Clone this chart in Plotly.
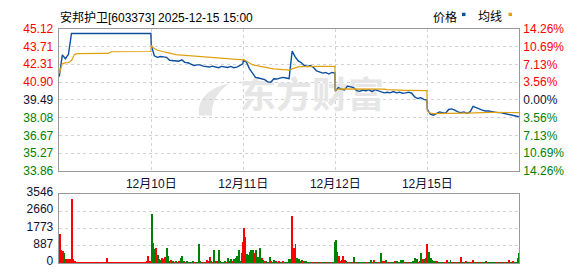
import plotly.graph_objects as go

# ---------------- data ----------------
prev_close = 39.49
day_labels = ["12月10日", "12月11日", "12月12日", "12月15日"]
price_ticks = [33.86, 35.27, 36.67, 38.08, 39.49, 40.90, 42.31, 43.71, 45.12]
pct_ticks = [-14.26, -10.69, -7.13, -3.56, 0.00, 3.56, 7.13, 10.69, 14.26]
vol_ticks = [0, 887, 1773, 2660, 3546]

# price sampled every 8 minutes (31 points per day)
price_d0 = [41.34, 43.05, 42.75, 43.10, 44.75, 44.75, 44.75, 44.75, 44.75, 44.75,
            44.75, 44.75, 44.75, 44.75, 44.75, 44.75, 44.75, 44.75, 44.75, 44.75,
            44.75, 44.75, 44.75, 44.75, 44.75, 44.75, 44.75, 44.75, 44.75, 44.75, 44.75]
price_d1 = [43.80, 42.98, 42.86, 42.93, 42.90, 42.86, 42.63, 42.60, 42.58, 42.55,
            42.66, 42.46, 42.43, 42.34, 42.21, 42.26, 42.26, 42.16, 42.11, 42.09,
            42.16, 42.09, 42.04, 42.14, 42.09, 42.06, 42.14, 42.04, 42.09, 42.21, 42.34]
price_d2 = [42.60, 42.50, 41.97, 41.59, 41.27, 41.22, 41.14, 41.09, 40.92, 40.89,
            41.17, 41.14, 41.22, 41.27, 41.22, 41.17, 43.35, 42.90, 42.58, 42.43,
            42.21, 42.14, 42.21, 42.06, 41.79, 41.68, 41.61, 41.66, 41.54, 41.66, 41.61]
price_d3 = [40.20, 40.47, 40.35, 40.27, 40.59, 40.55, 40.47, 40.22, 40.17, 40.27,
            40.22, 40.30, 40.15, 40.30, 40.22, 40.15, 40.05, 40.10, 40.05, 40.15,
            40.05, 40.10, 40.02, 40.05, 40.10, 40.02, 39.73, 39.60, 39.67, 39.53, 39.48]
price_d4 = [38.75, 38.36, 38.28, 38.41, 38.54, 38.48, 38.43, 38.73, 38.78, 38.68,
            38.54, 38.48, 38.54, 38.43, 38.54, 38.98, 38.85, 38.78, 38.68, 38.61,
            38.61, 38.56, 38.54, 38.48, 38.48, 38.43, 38.36, 38.31, 38.28, 38.24, 38.16]

avg_d0 = [41.60, 42.35, 42.42, 42.45, 42.60, 43.10, 43.15, 43.16, 43.16, 43.16,
          43.16, 43.16, 43.17, 43.17, 43.17, 43.18, 43.18, 43.30, 43.30, 43.30,
          43.31, 43.31, 43.31, 43.31, 43.31, 43.32, 43.32, 43.32, 43.32, 43.32, 43.32]
avg_d1 = [43.80, 43.55, 43.42, 43.33, 43.30, 43.25, 43.18, 43.12, 43.08, 43.06,
          43.04, 43.02, 43.00, 42.97, 42.95, 42.93, 42.91, 42.89, 42.87, 42.85,
          42.83, 42.81, 42.79, 42.77, 42.75, 42.73, 42.72, 42.70, 42.69, 42.68, 42.66]
avg_d2 = [42.70, 42.55, 42.38, 42.28, 42.22, 42.16, 42.10, 42.05, 42.01, 41.98,
          41.95, 41.93, 41.91, 41.89, 41.87, 41.85, 41.95, 42.05, 42.10, 42.12,
          42.13, 42.13, 42.13, 42.13, 42.14, 42.14, 42.14, 42.14, 42.14, 42.14, 42.14]
avg_d3 = [40.25, 40.35, 40.36, 40.36, 40.37, 40.37, 40.37, 40.37, 40.36, 40.36,
          40.36, 40.35, 40.35, 40.35, 40.35, 40.34, 40.34, 40.30, 40.28, 40.27,
          40.26, 40.25, 40.25, 40.24, 40.24, 40.23, 40.23, 40.22, 40.22, 40.22, 40.22]
avg_d4 = [38.60, 38.45, 38.40, 38.41, 38.42, 38.42, 38.42, 38.43, 38.44, 38.44,
          38.44, 38.44, 38.44, 38.44, 38.45, 38.48, 38.50, 38.50, 38.50, 38.50,
          38.50, 38.50, 38.50, 38.50, 38.50, 38.50, 38.50, 38.50, 38.50, 38.49, 38.49]

# volume sampled every 4 minutes (61 bars per day); r = up (red), g = down (green)
vol_d0 = [1507, 661, 600, 535, 209, 209, 209, 209, 3285, 209,
          100, 45, 40, 35, 40, 30, 35, 30, 40, 35,
          30, 35, 30, 40, 30, 35, 30, 30, 40, 35,
          30, 258, 40, 30, 35, 30, 30, 35, 30, 40,
          30, 35, 30, 30, 35, 40, 30, 35, 30, 30,
          35, 30, 40, 30, 35, 30, 45, 60, 369, 50,
          60]
col_d0 = "rrrggrrrrr rrrrrrrrrr rrrrrrrrrr rrrrrrrrrr rrrrrrrrrr rrrrrrrrrr r"
vol_d1 = [2509, 1020, 729, 777, 400, 209, 150, 258, 209, 300,
          744, 369, 60, 130, 50, 40, 60, 40, 50, 280,
          369, 60, 40, 50, 40, 35, 40, 50, 35, 40,
          45, 987, 50, 40, 35, 40, 130, 50, 290, 60,
          45, 661, 60, 50, 661, 50, 40, 45, 60, 40,
          280, 60, 209, 50, 209, 250, 370, 661, 100, 510,
          1098]
col_d1 = "gggrgggrgr gggrgrggrg ggrggrggrg gggrggrrrg rggrggrggr gggrgggggg r"
vol_d2 = [1798, 1312, 450, 400, 583, 661, 661, 500, 661, 300,
          300, 744, 240, 150, 60, 50, 40, 290, 50, 40,
          150, 50, 40, 100, 45, 40, 50, 40, 35, 45,
          209, 180, 2396, 777, 987, 250, 200, 60, 150, 50,
          100, 60, 40, 45, 40, 35, 40, 45, 35, 40,
          35, 40, 45, 35, 40, 45, 40, 35, 40, 45,
          1098]
col_d2 = "rrggrggrgg ggrgrgggrg grgrggrggr ggrrrggggr ggrggrggrg grggrggrgg g"
vol_d3 = [1181, 564, 340, 60, 150, 340, 150, 50, 40, 45,
          40, 35, 290, 45, 40, 35, 40, 45, 35, 40,
          45, 40, 35, 150, 40, 150, 45, 40, 35, 40,
          500, 50, 100, 150, 45, 40, 35, 40, 45, 120,
          90, 40, 45, 130, 150, 40, 45, 40, 35, 40,
          45, 100, 280, 209, 45, 60, 510, 209, 209, 280,
          987]
col_d3 = "ggrrrrrggr grggrggrgg rgggrrggrg grrggrggrr ggrggrggrg rgggrggrgr r"
vol_d4 = [500, 583, 280, 150, 100, 50, 100, 45, 40, 45,
          40, 35, 45, 150, 40, 150, 40, 35, 45, 40,
          35, 45, 321, 40, 35, 50, 40, 45, 35, 40,
          150, 45, 40, 35, 45, 40, 35, 45, 100, 40,
          45, 35, 40, 45, 35, 40, 45, 35, 40, 45,
          40, 35, 45, 150, 40, 35, 100, 45, 40, 280,
          510]
col_d4 = "ggggrgrgrg grgrggrggr ggrgrrggrg rgrggrgggr ggrggrggrg grgrggrggg g"

# ---------------- build series ----------------
MIN_PER_DAY = 241
prices = [price_d0, price_d1, price_d2, price_d3, price_d4]
avgs = [avg_d0, avg_d1, avg_d2, avg_d3, avg_d4]
vols = [vol_d0, vol_d1, vol_d2, vol_d3, vol_d4]
cols = [col_d0, col_d1, col_d2, col_d3, col_d4]

px, py, ay = [], [], []
for d, (pp, aa) in enumerate(zip(prices, avgs)):
    for k, (p, a) in enumerate(zip(pp, aa)):
        px.append(d * MIN_PER_DAY + 8 * k)
        py.append(p)
        ay.append(a)

vx, vy, vc = [], [], []
RED, GREEN = "#ff0000", "#008000"
for d, (vv, cc) in enumerate(zip(vols, cols)):
    cc = cc.replace(" ", "")
    for k, (v, c) in enumerate(zip(vv, cc)):
        vx.append(d * MIN_PER_DAY + 4 * k)
        vy.append(v)
        vc.append(RED if c == "r" else GREEN)

# ---------------- geometry helpers (pixels -> paper) ----------------
W, H = 578, 276
def fx(p):
    return p / W
def fy(p):
    return 1 - p / H

X0, X1 = 58.7, 519.3
P_TOP, P_BOT = 21.0, 172.0
V_TOP, V_BOT = 196.3, 269.5

XR = [-1.5, 1205]
YR = [price_ticks[0], price_ticks[-1]]
FONT = "Liberation Sans, Arial, Noto Sans CJK SC, sans-serif"
GRID = "#d2d2d2"
BORDER = "#9a9a9a"
BLUE = "#0b4fa0"
ORANGE = "#e0a010"
WM = "#e6e6e6"

def colored(txt, color):
    return '<span style="color:%s">%s</span>' % (color, txt)

left_text = []
for v in price_ticks:
    c = RED if v > prev_close + 1e-6 else (GREEN if v < prev_close - 1e-6 else "#101030")
    left_text.append(colored("%.2f" % v, c))
right_text = []
for v in pct_ticks:
    c = RED if v > 0 else (GREEN if v < 0 else "#101030")
    right_text.append(colored("%.2f%%" % abs(v), c))

# watermark placed (below the lines) at a pixel location converted to data units
def px_to_x(p):
    return XR[0] + (p - X0) / (X1 - X0) * (XR[1] - XR[0])
def px_to_y(p):
    return YR[1] - (p - P_TOP) / (P_BOT - P_TOP) * (YR[1] - YR[0])

fig = go.Figure()
fig.add_trace(go.Scatter(x=[px_to_x(312)], y=[px_to_y(96)], mode="text", text=["东方财富"],
                         textposition="middle center",
                         textfont=dict(family="Noto Sans CJK SC", size=36, color=WM,
                                       weight="bold"),
                         xaxis="x", yaxis="y", hoverinfo="skip", showlegend=False))
fig.add_trace(go.Scatter(x=px, y=py, mode="lines", line=dict(color=BLUE, width=1.4),
                         xaxis="x", yaxis="y", hoverinfo="skip", showlegend=False))
fig.add_trace(go.Scatter(x=px, y=ay, mode="lines", line=dict(color=ORANGE, width=1.2),
                         xaxis="x", yaxis="y", hoverinfo="skip", showlegend=False))
fig.add_trace(go.Scatter(x=[px[0]], y=[0], mode="markers", marker=dict(opacity=0),
                         xaxis="x", yaxis="y3", hoverinfo="skip", showlegend=False))
fig.add_trace(go.Bar(x=vx, y=vy, marker=dict(color=vc, line=dict(width=0)), width=2.6,
                     xaxis="x2", yaxis="y2", hoverinfo="skip", showlegend=False))

axis_font = dict(family=FONT, size=12, color="#101030")

fig.update_layout(
    width=W, height=H, autosize=False,
    margin=dict(l=0, r=0, t=0, b=0),
    paper_bgcolor="white", plot_bgcolor="white",
    bargap=0,
    xaxis=dict(domain=[fx(X0), fx(X1)], range=XR, anchor="y",
               tickvals=[241, 482, 723, 964], ticktext=day_labels,
               tickfont=axis_font, ticks="", ticklabelstandoff=2,
               showgrid=True, gridcolor=GRID, griddash="3px,3px", gridwidth=1,
               showline=True, mirror=True, linecolor=BORDER, linewidth=1,
               zeroline=False),
    yaxis=dict(domain=[fy(P_BOT), fy(P_TOP)], range=YR,
               anchor="x", tickvals=price_ticks, ticktext=left_text,
               tickfont=axis_font, ticks="", ticklabelstandoff=2,
               showgrid=True, gridcolor=GRID, griddash="3px,3px", gridwidth=1,
               showline=True, mirror=True, linecolor=BORDER, linewidth=1,
               zeroline=False),
    yaxis3=dict(overlaying="y", side="right", anchor="x",
                range=[pct_ticks[0], pct_ticks[-1]],
                tickvals=pct_ticks, ticktext=right_text,
                tickfont=axis_font, ticks="", ticklabelstandoff=3,
                showgrid=False, zeroline=False, showline=False),
    xaxis2=dict(domain=[fx(X0), fx(X1)], range=XR, anchor="y2",
                showticklabels=False, ticks="", showgrid=False,
                showline=True, mirror=True, linecolor=BORDER, linewidth=1,
                zeroline=False),
    yaxis2=dict(domain=[fy(V_BOT), fy(V_TOP)], range=[0, vol_ticks[-1]], anchor="x2",
                tickvals=vol_ticks, ticktext=[str(v) for v in vol_ticks],
                tickfont=axis_font, ticks="", ticklabelstandoff=2, ticklabelshift=-2,
                showgrid=True, gridcolor=GRID, griddash="3px,3px", gridwidth=1,
                showline=True, mirror=True, linecolor=BORDER, linewidth=1,
                zeroline=False),
)

# title and legend
fig.add_annotation(x=fx(58), y=fy(8.5), xref="paper", yref="paper", xanchor="left",
                   yanchor="middle", showarrow=False,
                   text="安邦护卫[603373] 2025-12-15 15:00",
                   font=dict(family=FONT, size=12, color="#000000"))
fig.add_annotation(x=fx(431), y=fy(8.5), xref="paper", yref="paper", xanchor="left",
                   yanchor="middle", showarrow=False, text="价格",
                   font=dict(family=FONT, size=12, color="#000000"))
fig.add_annotation(x=fx(476), y=fy(8.5), xref="paper", yref="paper", xanchor="left",
                   yanchor="middle", showarrow=False, text="均线",
                   font=dict(family=FONT, size=12, color="#000000"))
fig.add_shape(type="rect", xref="paper", yref="paper", x0=fx(462), x1=fx(465.5),
              y0=fy(7.5), y1=fy(4), fillcolor=BLUE, line=dict(width=0))
fig.add_shape(type="rect", xref="paper", yref="paper", x0=fx(508.5), x1=fx(512),
              y0=fy(7.5), y1=fy(4), fillcolor=ORANGE, line=dict(width=0))

# watermark logo
def P(x, y):
    return "%.5f,%.5f" % (fx(x), fy(y))
logo = ("M " + P(199, 113) + " C " + P(197, 97) + " " + P(207, 84) + " " + P(229, 79) +
        " C " + P(217, 88) + " " + P(211, 100) + " " + P(212, 113) + " Z")
fig.add_shape(type="path", xref="paper", yref="paper", path=logo, fillcolor=WM,
              line=dict(width=0), layer="below")

fig.write_html("out.html")
